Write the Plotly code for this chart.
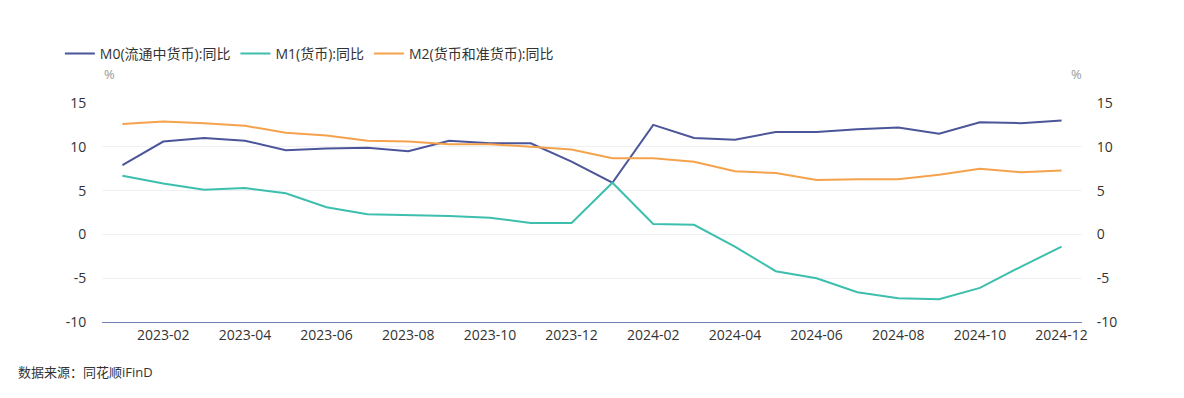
import plotly.graph_objects as go

months = ["2023-01", "2023-02", "2023-03", "2023-04", "2023-05", "2023-06",
          "2023-07", "2023-08", "2023-09", "2023-10", "2023-11", "2023-12",
          "2024-01", "2024-02", "2024-03", "2024-04", "2024-05", "2024-06",
          "2024-07", "2024-08", "2024-09", "2024-10", "2024-11", "2024-12"]

m0 = [7.9, 10.6, 11.0, 10.7, 9.6, 9.8, 9.9, 9.5, 10.7, 10.4, 10.4, 8.3,
      5.9, 12.5, 11.0, 10.8, 11.7, 11.7, 12.0, 12.2, 11.5, 12.8, 12.7, 13.0]
m1 = [6.7, 5.8, 5.1, 5.3, 4.7, 3.1, 2.3, 2.2, 2.1, 1.9, 1.3, 1.3,
      5.9, 1.2, 1.1, -1.4, -4.2, -5.0, -6.6, -7.3, -7.4, -6.1, -3.7, -1.4]
m2 = [12.6, 12.9, 12.7, 12.4, 11.6, 11.3, 10.7, 10.6, 10.3, 10.3, 10.0, 9.7,
      8.7, 8.7, 8.3, 7.2, 7.0, 6.2, 6.3, 6.3, 6.8, 7.5, 7.1, 7.3]

names = ["M0(流通中货币):同比", "M1(货币):同比", "M2(货币和准货币):同比"]
colors = ["#4b5599", "#3dbfad", "#f5a24d"]
y_ticks = [-10, -5, 0, 5, 10, 15]
y_labels = ["-10", "-5", "0", "5", "10", "15"]
x_ticks = months[1::2]

FONT = "Open Sans, Noto Sans CJK SC, sans-serif"
PW, PH = 980, 219

fig = go.Figure()
for name, vals, c in zip(names, [m0, m1, m2], colors):
    fig.add_trace(go.Scatter(x=months, y=vals, name=name, mode="lines",
                             line=dict(color=c, width=2)))

# invisible trace for right axis
fig.add_trace(go.Scatter(x=months, y=m0, yaxis="y2", mode="lines",
                         line=dict(width=0), showlegend=False, hoverinfo="skip",
                         opacity=0))

fig.update_layout(
    width=1176, height=390,
    margin=dict(l=94, r=102, t=95, b=76),
    paper_bgcolor="white", plot_bgcolor="white",
    font=dict(family=FONT, size=14, color="#333333"),
    showlegend=True,
    legend=dict(orientation="h", x=-0.043, xanchor="left", y=1 + 65 / PH, yanchor="top",
                font=dict(size=14, color="#333333"), bgcolor="rgba(0,0,0,0)",
                tracegroupgap=0, itemwidth=30),
    xaxis=dict(type="category", range=[-0.5, 23.5], tickvals=x_ticks, ticktext=x_ticks,
               showgrid=False, showline=True, linecolor="#7282b5", linewidth=1,
               ticks="", tickfont=dict(size=14, color="#333333"), zeroline=False),
    yaxis=dict(range=[-10, 15], tickvals=y_ticks, ticktext=y_labels, showgrid=True,
               gridcolor="#eef0f6", gridwidth=1, zeroline=False, showline=False,
               ticks="outside", ticklen=12, tickcolor="rgba(0,0,0,0)",
               tickfont=dict(size=14, color="#333333")),
    yaxis2=dict(range=[-10, 15], tickvals=y_ticks, ticktext=y_labels, overlaying="y",
                side="right", showgrid=False, zeroline=False, showline=False,
                ticks="outside", ticklen=11, tickcolor="rgba(0,0,0,0)",
                tickfont=dict(size=14, color="#333333")),
    annotations=[
        dict(text="%", xref="paper", yref="paper", x=7 / PW, y=1 + 29 / PH,
             xanchor="center", yanchor="middle", showarrow=False,
             font=dict(size=13, color="#999999")),
        dict(text="%", xref="paper", yref="paper", x=1 - 6 / PW, y=1 + 29 / PH,
             xanchor="center", yanchor="middle", showarrow=False,
             font=dict(size=13, color="#999999")),
        dict(text="数据来源：同花顺iFinD", xref="paper", yref="paper",
             x=-86 / PW, y=-50 / PH, xanchor="left", yanchor="middle",
             showarrow=False, font=dict(size=13, color="#333333")),
    ],
)

fig.write_html("out.html")
